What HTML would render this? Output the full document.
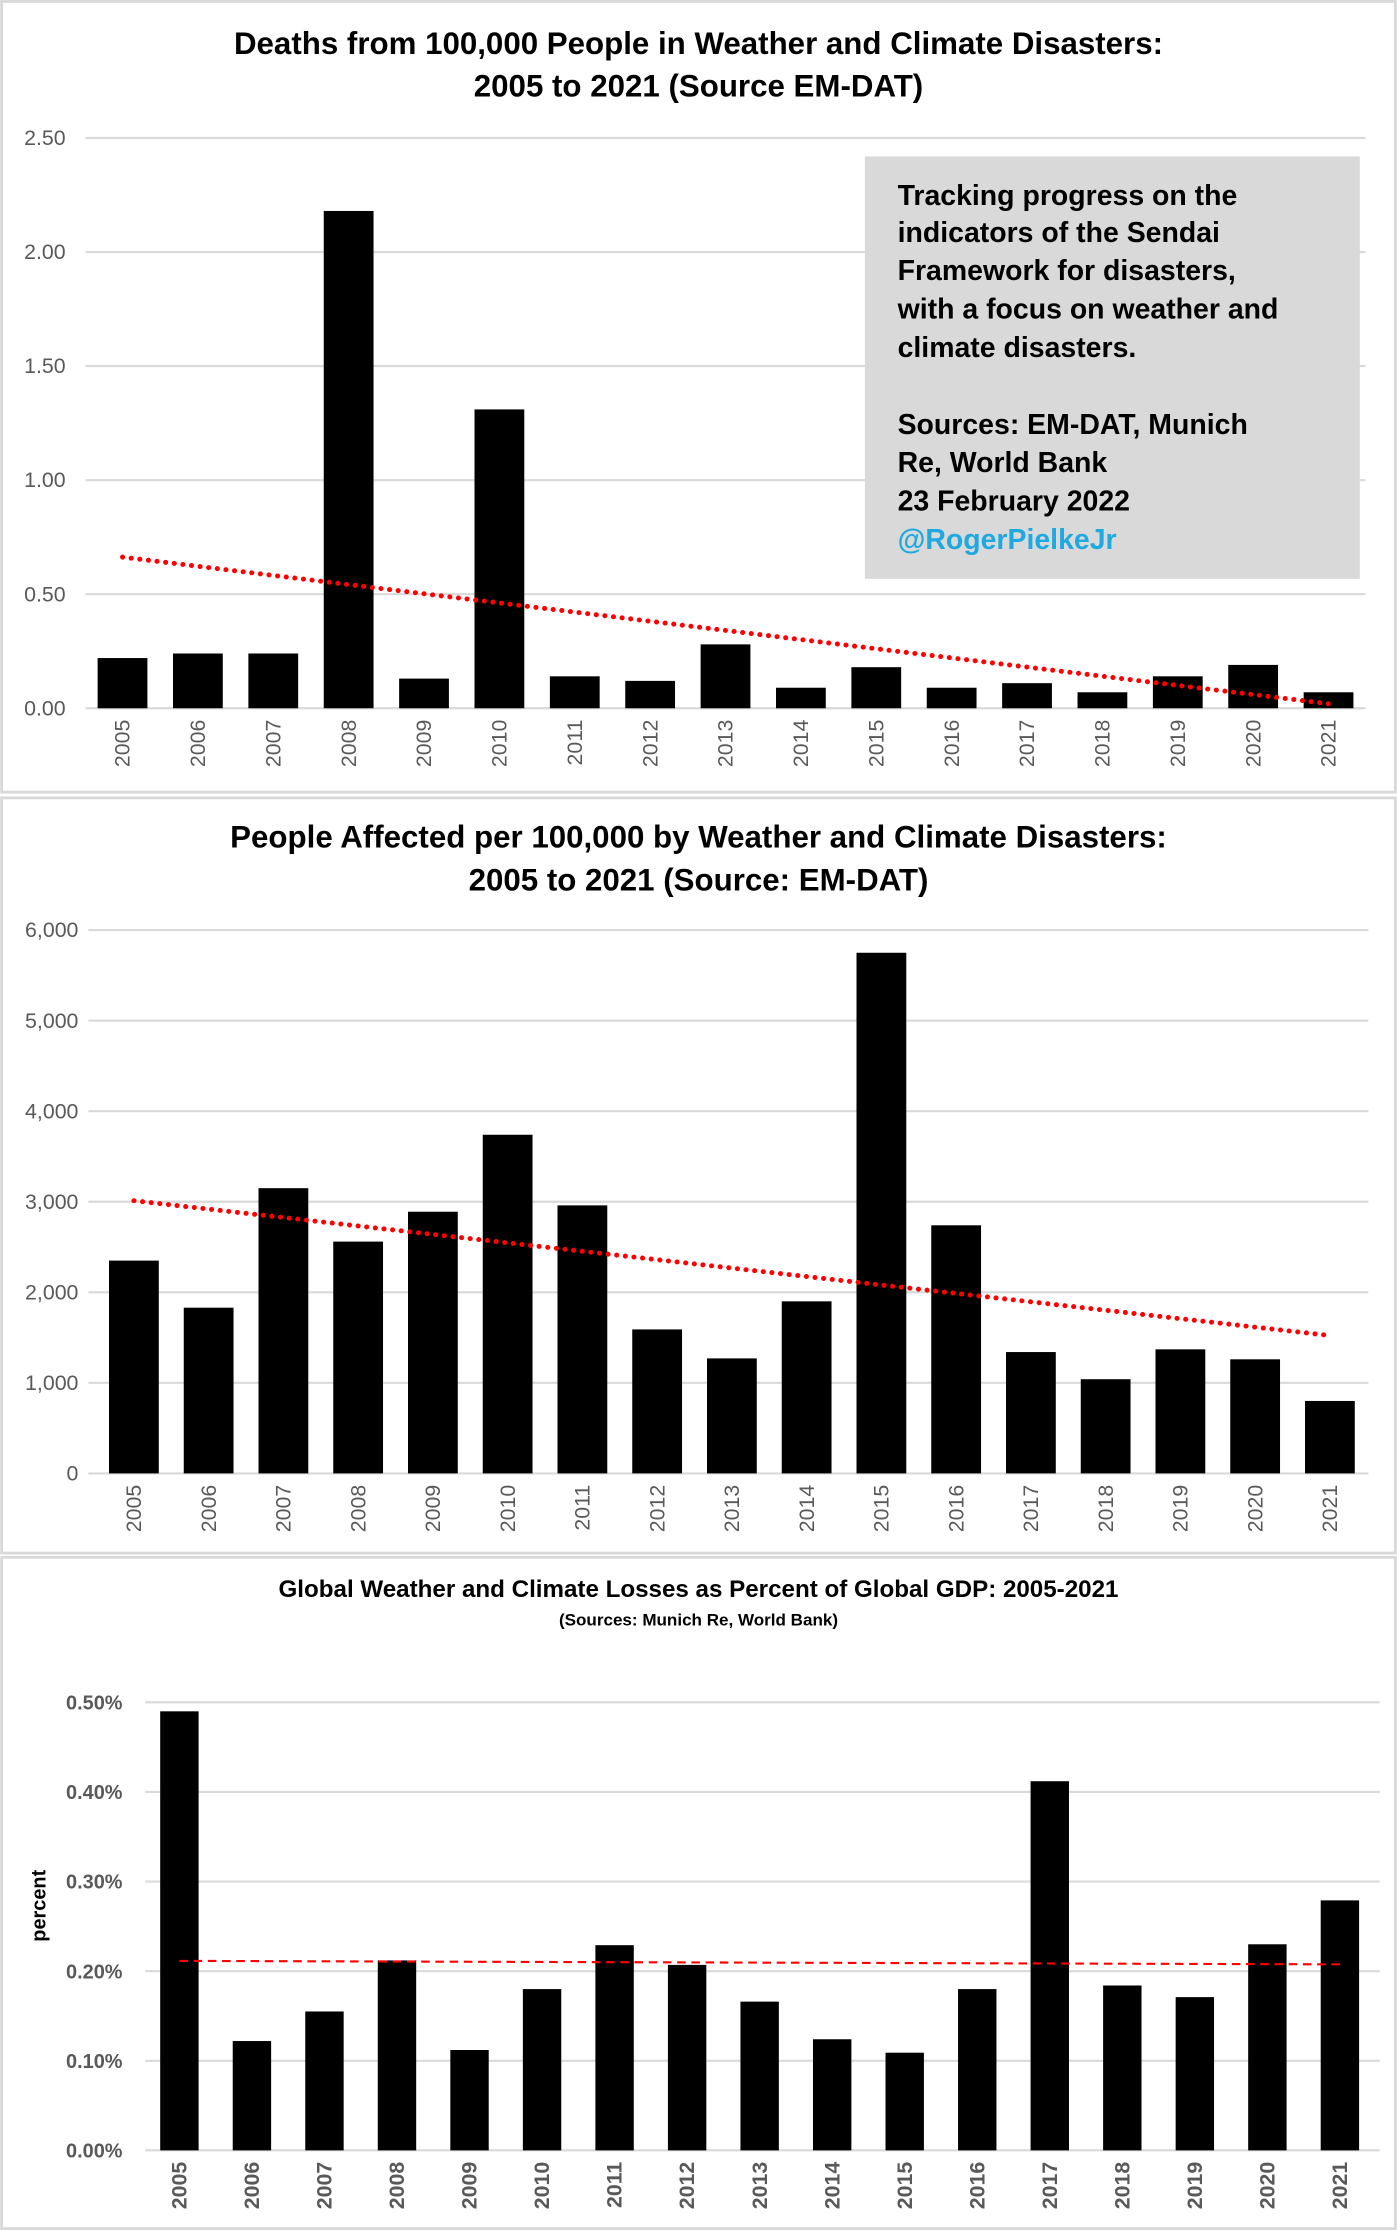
<!DOCTYPE html>
<html><head><meta charset="utf-8"><style>
html,body{margin:0;padding:0;background:#fff}
svg{display:block}
text{font-family:"Liberation Sans",sans-serif}
</style></head><body>
<svg id="svg" width="1397" height="2230" viewBox="0 0 982 1568" xmlns="http://www.w3.org/2000/svg">
<rect x="0" y="0" width="982" height="1568" fill="#fff"/>
<rect x="1" y="1" width="980" height="556" fill="none" stroke="#d9d9d9" stroke-width="2"/>
<rect x="1" y="561" width="980" height="531" fill="none" stroke="#d9d9d9" stroke-width="2"/>
<rect x="1" y="1095" width="980" height="472" fill="none" stroke="#d9d9d9" stroke-width="2"/>
<text x="491" y="38" text-anchor="middle" font-size="22" font-weight="bold">Deaths from 100,000 People in Weather and Climate Disasters:</text>
<text x="491" y="68" text-anchor="middle" font-size="22" font-weight="bold">2005 to 2021 (Source EM-DAT)</text>
<text x="491" y="596" text-anchor="middle" font-size="22" font-weight="bold">People Affected per 100,000 by Weather and Climate Disasters:</text>
<text x="491" y="626" text-anchor="middle" font-size="22" font-weight="bold">2005 to 2021 (Source: EM-DAT)</text>
<text x="491" y="1123" text-anchor="middle" font-size="17" font-weight="bold">Global Weather and Climate Losses as Percent of Global GDP: 2005-2021</text>
<text x="491" y="1143" text-anchor="middle" font-size="12" font-weight="bold">(Sources: Munich Re, World Bank)</text>
<text transform="translate(32,1340) rotate(-90)" text-anchor="middle" font-size="14" font-weight="bold">percent</text>
<g id="c1"></g><g id="c2"></g><g id="c3"></g>
<g>
<rect x="608" y="110" width="348" height="297" fill="#d9d9d9"/>
<g font-size="20" font-weight="bold" fill="#000">
<text x="631" y="144">Tracking progress on the</text>
<text x="631" y="170">indicators of the Sendai</text>
<text x="631" y="197">Framework for disasters,</text>
<text x="631" y="224">with a focus on weather and</text>
<text x="631" y="251">climate disasters.</text>
<text x="631" y="305">Sources: EM-DAT, Munich</text>
<text x="631" y="332">Re, World Bank</text>
<text x="631" y="359">23 February 2022</text>
<text x="631" y="386" fill="#1fa9e1">@RogerPielkeJr</text>
</g></g>
</svg>
<script>
const years=["2005","2006","2007","2008","2009","2010","2011","2012","2013","2014","2015","2016","2017","2018","2019","2020","2021"];
const deaths=[0.22,0.24,0.24,2.18,0.13,1.31,0.14,0.12,0.28,0.09,0.18,0.09,0.11,0.07,0.14,0.19,0.07];
const deathTicks=["0.00","0.50","1.00","1.50","2.00","2.50"];
const deathTickVals=[0,0.5,1,1.5,2,2.5];
const affected=[2350,1830,3150,2560,2890,3740,2960,1590,1270,1900,5750,2740,1340,1040,1370,1260,800];
const affTicks=["0","1,000","2,000","3,000","4,000","5,000","6,000"];
const affTickVals=[0,1000,2000,3000,4000,5000,6000];
const losses=[0.49,0.122,0.155,0.212,0.112,0.18,0.229,0.207,0.166,0.124,0.109,0.18,0.412,0.184,0.171,0.23,0.279];
const lossTicks=["0.00%","0.10%","0.20%","0.30%","0.40%","0.50%"];
const lossTickVals=[0,0.1,0.2,0.3,0.4,0.5];
const NS="http://www.w3.org/2000/svg";
function mk(p,t,a){const e=document.createElementNS(NS,t);for(const k in a)e.setAttribute(k,a[k]);p.appendChild(e);return e;}
function fit(v){const n=v.length;let sx=0,sy=0,sxy=0,sxx=0;v.forEach((y,i)=>{sx+=i;sy+=y;sxy+=i*y;sxx+=i*i});const b=(n*sxy-sx*sy)/(n*sxx-sx*sx);return [sy/n-b*sx/n,b];}
function chart(g,cfg){
  const y=v=>cfg.y0-(v/cfg.max)*(cfg.y0-cfg.yTop);
  const x=i=>cfg.x0+i*cfg.dx;
  cfg.tickVals.forEach((tv,i)=>{
    const l=mk(g,'line',{x1:cfg.gx1,x2:cfg.gx2,y1:y(tv),y2:y(tv),stroke:'#d9d9d9','stroke-width':1.5});
    
    
    const t=mk(g,'text',{x:cfg.lx,y:y(tv)+5,'text-anchor':'end','font-size':cfg.fs,fill:'#595959','font-weight':cfg.bold?'bold':'normal'});
    t.textContent=cfg.ticks[i];
    
    
  });
  cfg.data.forEach((v,i)=>{
    const r=mk(g,'rect',{x:x(i)-cfg.bw/2,y:y(v),width:cfg.bw,height:cfg.y0-y(v),fill:'#000'});
    
    
    const t=mk(g,'text',{transform:`translate(${x(i)+5},${cfg.y0+8}) rotate(-90)`,'text-anchor':'end','font-size':cfg.xfs,fill:'#595959','font-weight':cfg.bold?'bold':'normal'});
    t.textContent=years[i];
    
    
  });
  const [a,b]=fit(cfg.data);const n=cfg.data.length-1;
  const tl=mk(g,'line',{x1:x(0),x2:x(n),y1:y(a),y2:y(a+b*n),stroke:'#f00','stroke-width':cfg.dash?1.5:3.5,'stroke-dasharray':cfg.dash?'6,4':'0.1,6','stroke-linecap':cfg.dash?'butt':'round'});
  
  
}
chart(document.getElementById('c1'),{data:deaths,ticks:deathTicks,tickVals:deathTickVals,max:2.5,y0:498,yTop:97,x0:86,dx:53,bw:35,gx1:60,gx2:960,lx:46,fs:15,xfs:15});
chart(document.getElementById('c2'),{data:affected,ticks:affTicks,tickVals:affTickVals,max:6000,y0:1036,yTop:654,x0:94,dx:52.56,bw:35,gx1:62,gx2:962,lx:55,fs:15,xfs:15});
chart(document.getElementById('c3'),{data:losses,ticks:lossTicks,tickVals:lossTickVals,max:0.5,y0:1512,yTop:1197,x0:126,dx:51,bw:27,gx1:102,gx2:970,lx:86,fs:14,xfs:15,bold:true,dash:true});
</script>
</body></html>
